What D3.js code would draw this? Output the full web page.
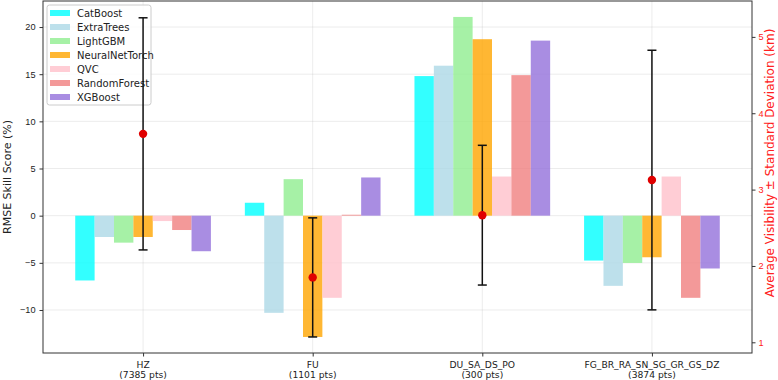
<!DOCTYPE html>
<html>
<head>
<meta charset="utf-8">
<script src="https://cdn.jsdelivr.net/npm/d3@7"></script>
<style>
  body { margin: 0; background: #fff; }
  svg { font-family: "DejaVu Sans", sans-serif; }
</style>
</head>
<body>
<div id="chart"></div>
<script>
// categories + counts
var categories = ["HZ", "FU", "DU_SA_DS_PO", "FG_BR_RA_SN_SG_GR_GS_DZ"];
var counts = [7385, 1101, 300, 3874];

var models = ["CatBoost", "ExtraTrees", "LightGBM", "NeuralNetTorch", "QVC", "RandomForest", "XGBoost"];
var modelColors = ["#00ffff", "#add8e6", "#90ee90", "#ffa500", "#ffc0cb", "#f08080", "#9370db"];

// skill score (%) per model, one value per category
var catBoost     = [-6.87, 1.37, 14.8, -4.76];
var extraTrees   = [-2.26, -10.3, 15.9, -7.44];
var lightGBM     = [-2.86, 3.87, 21.07, -5.01];
var neuralNet    = [-2.26, -12.86, 18.71, -4.41];
var qvc          = [-0.57, -8.71, 4.15, 4.15];
var randomForest = [-1.52, 0.1, 14.9, -8.71];
var xgBoost      = [-3.77, 4.05, 18.56, -5.6];

// visibility mean / std (km)
var visMean = [3.73, 1.85, 2.665, 3.125];
var visStd  = [1.52, 0.78, 0.915, 1.70];

var leftTicks = [-10, -5, 0, 5, 10, 15, 20];
var rightTicks = [1, 2, 3, 4, 5];

var series = [catBoost, extraTrees, lightGBM, neuralNet, qvc, randomForest, xgBoost];

var W = 778, H = 380;
var margin = {top: 1, right: 26, bottom: 27, left: 43};
var width = W - margin.left - margin.right,
    height = H - margin.top - margin.bottom;

var svg = d3.select("#chart").append("svg")
    .attr("width", W).attr("height", H)
  .append("g")
    .attr("transform", "translate(" + margin.left + "," + margin.top + ")");

var barW = 0.8 / models.length;
var x = d3.scaleLinear().domain([-0.59, 3.59]).range([0, width]);
var y = d3.scaleLinear().domain([-14.56, 22.76]).range([height, 0]);
var y2 = d3.scaleLinear().domain([0.86, 5.47]).range([height, 0]);

var fmt = function(d) { return d < 0 ? "\u2212" + Math.abs(d) : d; };

// grid (below bars)
svg.selectAll(".ygrid").data(leftTicks).enter().append("line")
  .attr("x1", 0).attr("x2", width)
  .attr("y1", function(d) { return y(d); }).attr("y2", function(d) { return y(d); })
  .style("stroke", "#b0b0b0").style("stroke-opacity", 0.3).style("stroke-width", 0.8);
svg.selectAll(".xgrid").data(categories).enter().append("line")
  .attr("x1", function(d, i) { return x(i); }).attr("x2", function(d, i) { return x(i); })
  .attr("y1", 0).attr("y2", height)
  .style("stroke", "#b0b0b0").style("stroke-opacity", 0.3).style("stroke-width", 0.8);

// bars
series.forEach(function(vals, m) {
  svg.selectAll(".bar" + m).data(vals).enter().append("rect")
    .attr("x", function(d, i) { return x(i + (m - 3) * barW - barW / 2); })
    .attr("width", x(barW) - x(0))
    .attr("y", function(d) { return y(Math.max(0, d)); })
    .attr("height", function(d) { return Math.abs(y(d) - y(0)); })
    .style("fill", modelColors[m])
    .style("opacity", 0.8);
});

// axes
var yAxis = d3.axisLeft(y).tickValues(leftTicks).tickFormat(fmt).tickSize(3.5).tickPadding(4);
var gy = svg.append("g").call(yAxis);
gy.select(".domain").remove();
gy.selectAll("text").style("font-size", "9.2px").style("fill", "#222");
gy.selectAll("line").style("stroke", "#333");

var yAxis2 = d3.axisRight(y2).tickValues(rightTicks).tickFormat(d3.format("d")).tickSize(3.5).tickPadding(3);
var gy2 = svg.append("g").attr("transform", "translate(" + width + ",0)").call(yAxis2);
gy2.select(".domain").remove();
gy2.selectAll("text").style("font-size", "9.2px").style("fill", "#ff2020");
gy2.selectAll("line").style("stroke", "#333");

var xAxis = d3.axisBottom(x).tickValues([0, 1, 2, 3]).tickFormat("").tickSize(3.5);
var gx = svg.append("g").attr("transform", "translate(0," + height + ")").call(xAxis);
gx.select(".domain").remove();
gx.selectAll("line").style("stroke", "#333");

var xl = svg.selectAll(".xlab").data(categories).enter().append("text")
  .attr("text-anchor", "middle")
  .style("font-size", "9.2px").style("fill", "#222");
xl.append("tspan").attr("x", function(d, i) { return x(i); }).attr("y", height + 14.5).text(function(d) { return d; });
xl.append("tspan").attr("x", function(d, i) { return x(i); }).attr("y", height + 24.5)
  .text(function(d, i) { return "(" + counts[i] + " pts)"; });

// frame
svg.append("rect").attr("x", 0).attr("y", 0).attr("width", width).attr("height", height)
  .style("fill", "none").style("stroke", "#333").style("stroke-width", 1);

// axis titles
svg.append("text")
  .attr("transform", "translate(" + (-32) + "," + (height / 2) + ") rotate(-90)")
  .attr("text-anchor", "middle")
  .style("font-size", "11px").style("fill", "#222")
  .text("RMSE Skill Score (%)");
svg.append("text")
  .attr("transform", "translate(" + (width + 22) + "," + (height / 2 - 14) + ") rotate(-90)")
  .attr("text-anchor", "middle")
  .style("font-size", "12px").style("fill", "#ff2020")
  .text("Average Visibility \u00b1 Standard Deviation (km)");

// legend
var lg = svg.append("g").attr("transform", "translate(4,4)");
lg.append("rect").attr("width", 104).attr("height", 100).attr("rx", 2.5)
  .style("fill", "#fff").style("fill-opacity", 0.8).style("stroke", "#ccc");
models.forEach(function(m, i) {
  var row = lg.append("g").attr("transform", "translate(0," + (8 + i * 14) + ")");
  row.append("rect").attr("x", 3).attr("y", -3).attr("width", 20).attr("height", 6)
    .style("fill", modelColors[i]).style("opacity", 0.8);
  row.append("text").attr("x", 30).attr("y", 3.6)
    .style("font-size", "10px").style("fill", "#222").text(m);
});

// error bars on right scale (drawn over legend)
var eb = svg.selectAll(".err").data(visMean).enter().append("g");
eb.append("line")
  .attr("x1", function(d, i) { return x(i); }).attr("x2", function(d, i) { return x(i); })
  .attr("y1", function(d, i) { return y2(d + visStd[i]); })
  .attr("y2", function(d, i) { return y2(d - visStd[i]); })
  .style("stroke", "#111").style("stroke-width", 1.5);
eb.append("line")
  .attr("x1", function(d, i) { return x(i) - 4.5; }).attr("x2", function(d, i) { return x(i) + 4.5; })
  .attr("y1", function(d, i) { return y2(d + visStd[i]); })
  .attr("y2", function(d, i) { return y2(d + visStd[i]); })
  .style("stroke", "#111").style("stroke-width", 1.5);
eb.append("line")
  .attr("x1", function(d, i) { return x(i) - 4.5; }).attr("x2", function(d, i) { return x(i) + 4.5; })
  .attr("y1", function(d, i) { return y2(d - visStd[i]); })
  .attr("y2", function(d, i) { return y2(d - visStd[i]); })
  .style("stroke", "#111").style("stroke-width", 1.5);
eb.append("circle")
  .attr("cx", function(d, i) { return x(i); })
  .attr("cy", function(d) { return y2(d); })
  .attr("r", 4.2)
  .style("fill", "#e00000");
</script>
</body>
</html>
